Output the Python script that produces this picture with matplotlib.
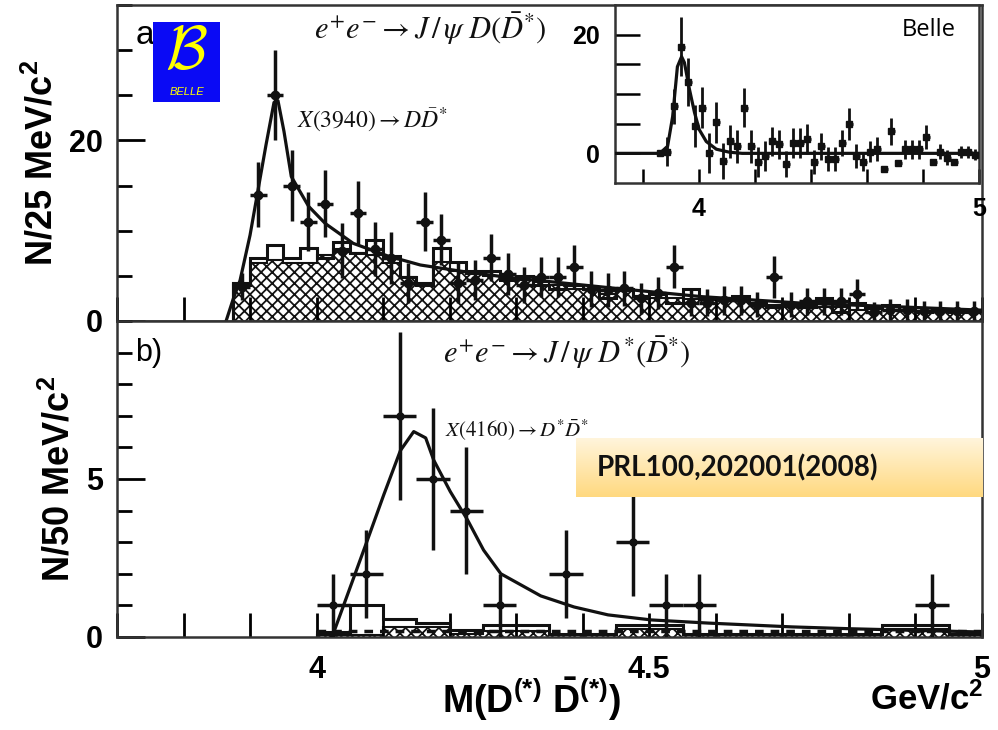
import matplotlib.pyplot as plt
import matplotlib.patches as mpatches
import numpy as np

plt.rcParams['font.family'] = ['Liberation Sans', 'DejaVu Sans']
plt.rcParams['mathtext.fontset'] = 'custom'
plt.rcParams['mathtext.rm'] = 'Liberation Sans:bold'
plt.rcParams['mathtext.it'] = 'Liberation Sans:bold:italic'
plt.rcParams['mathtext.bf'] = 'Liberation Sans:bold'
plt.rcParams['hatch.linewidth'] = 1.3
plt.rcParams['axes.linewidth'] = 1.8

# ---------------- panel a : J/psi D(D*) , 25 MeV bins ----------------
a_edges = np.arange(3.875, 5.0001, 0.025)
a_centers = a_edges[:-1] + 0.0125
a_counts = [3.8, 14, 25, 15, 11, 13, 7.8, 12, 8, 7, 4.2, 11, 9, 4.2, 4.5,
            7, 5.2, 4, 4.9, 4.9, 6, 3.5, 3.4, 3.6, 2.5, 3.1, 6, 2, 2, 2.3,
            2.3, 1.8, 4.9, 1.8, 2.2, 2.2, 2.2, 3, 1, 1.2, 1.2, 1.1, 1.1, 1.1, 1.1]
a_err = [1.5, 3.6, 5.0, 3.9, 3.3, 3.7, 3.0, 3.5, 3.0, 2.9, 2.2, 3.3, 2.8, 2.2,
         2.2, 2.6, 2.3, 2.0, 2.2, 2.2, 2.4, 2.0, 1.9, 1.9, 1.7, 1.8, 2.4, 1.5,
         1.5, 1.6, 1.6, 1.4, 2.3, 1.4, 1.5, 1.5, 1.5, 1.7, 1.1, 1.2, 1.2, 1.1,
         1.1, 1.1, 1.1]
a_bkg_hatched = [4.2, 6.4, 6.8, 6.4, 6.4, 7.3, 8.0, 7.5, 7.3, 6.4, 4.9, 4.2, 6.5,
                 5.5, 5.2, 5.0, 4.8, 4.5, 4.3, 4.0, 3.5, 3.4, 3.0, 3.3, 2.8, 2.6,
                 2.5, 2.4, 2.3, 2.4, 2.2, 2.0, 1.8, 1.6, 1.8, 1.6, 1.5, 1.2, 1.3,
                 1.2, 1.2, 1.1, 1.0, 1.0, 0.9]
a_bkg_open = [4.0, 7.0, 8.4, 7.0, 8.1, 7.0, 8.8, 7.5, 9.0, 7.2, 4.9, 4.0, 8.1,
              6.5, 5.5, 5.5, 4.5, 5.0, 4.0, 3.5, 4.0, 3.5, 2.5, 3.5, 2.8, 3.0,
              2.0, 3.5, 2.5, 2.5, 2.8, 2.0, 1.5, 2.0, 1.5, 2.5, 1.0, 2.0, 1.5,
              1.8, 1.2, 1.0, 1.2, 1.0, 1.0]
a_fit_x = [3.864, 3.875, 3.885, 3.900, 3.912, 3.924, 3.936, 3.942, 3.951, 3.962,
           3.988, 4.013, 4.055, 4.107, 4.156, 4.227, 4.292, 4.438, 4.578, 4.724,
           4.864, 5.0]
a_fit_y = [0, 2.5, 4.5, 9.5, 14.5, 19.5, 24.2, 24.4, 21, 16, 12.7, 10.8, 8.6,
           7.2, 6.2, 5.4, 4.8, 3.7, 2.7, 2.0, 1.6, 1.2]

# ---------------- inset : Belle inclusive ----------------
in_centers = np.arange(3.8625, 5.0, 0.025)
in_counts = [0.1, 0.3, 7.9, 18, 12, 4.6, 7.7, 0.1, 5.2, -1.3, 2.0, 1.2, 7.7, 1.2,
             -1.5, -0.5, 2.0, 1.5, -1.8, 1.8, 1.8, 2.4, -1.5, 1.2, -1.0, -1.0,
             1.8, 4.9, -0.5, -1.5, 0.3, 0.7, -2.7, 3.7, -1.7, 0.7, 0.7, 0.7,
             2.7, -1.5, 0.3, -0.7, -1.5, 0.2, 0.3, -0.2]
in_err = [0, 2.5, 3, 5, 4, 3.5, 3.4, 3.4, 3.5, 3, 2.8, 2.8, 3.3, 2.8, 2.5, 2.5,
          2.5, 2.5, 2.2, 2.5, 2.5, 2.5, 2, 2.3, 2, 2, 2.2, 2.7, 2, 1.5, 1.8, 2,
          0, 2.3, 0, 1.6, 1.6, 1.6, 2.0, 0, 1.2, 1.2, 0, 1, 1, 1]
in_fit_x = [3.70, 3.860, 3.888, 3.906, 3.923, 3.938, 3.948, 3.966, 3.984, 4.001,
            4.026, 4.062, 4.108, 4.154, 5.0]
in_fit_y = [0, 0, 1.2, 6.2, 14.6, 16.3, 15.3, 10.8, 6.9, 4.0, 2.0, 0.7, 0.2, 0, 0]

# ---------------- panel b : J/psi D*(D*) , 50 MeV bins ----------------
b_edges = np.arange(4.0, 5.0001, 0.05)
b_x = [4.025, 4.075, 4.125, 4.175, 4.225, 4.275, 4.375, 4.475, 4.525, 4.575, 4.925]
b_counts = [1, 2, 7, 5, 4, 1, 2, 3, 1, 1, 1]
b_err = [1, 1.4, 2.65, 2.25, 2.0, 1.0, 1.4, 1.7, 1.0, 1.0, 1.0]
b_bkg_open = [0.15, 1.0, 0.57, 0.44, 0.22, 0.38, 0.38, 0.1, 0.1, 0.38, 0.38,
              0.1, 0.1, 0.1, 0.1, 0.1, 0.1, 0.38, 0.38, 0.1]
b_bkg_hatched = [0.05, 0.05, 0.32, 0.32, 0.1, 0.2, 0.2, 0.05, 0.05, 0.25, 0.25,
                 0.05, 0.05, 0.05, 0.05, 0.05, 0.05, 0.25, 0.25, 0.05]
b_fit_x = [4.022, 4.025, 4.051, 4.077, 4.101, 4.126, 4.146, 4.164, 4.176, 4.201,
           4.227, 4.251, 4.277, 4.337, 4.387, 4.438, 4.503, 4.589, 4.714, 4.804,
           4.995]
b_fit_y = [0, 0.1, 1.6, 3.1, 4.5, 5.9, 6.5, 6.3, 5.6, 4.6, 3.7, 2.75, 2.0, 1.3,
           0.95, 0.7, 0.54, 0.44, 0.32, 0.26, 0.16]
b_flat_bkg = 0.2

# ---------------- figure ----------------
fig = plt.figure(figsize=(9.98, 7.3), dpi=100)
axa = fig.add_axes([0.1172, 0.5603, 0.8667, 0.4329])
axb = fig.add_axes([0.1172, 0.1274, 0.8667, 0.4329])

for ax in (axa, axb):
    ax.set_xlim(3.7, 5.0)
    for s in ax.spines.values():
        s.set_color('#333333')
    ax.xaxis.set_major_locator(plt.FixedLocator([4.0, 4.5, 5.0]))
    ax.xaxis.set_minor_locator(plt.MultipleLocator(0.1))
    ax.tick_params(axis='x', which='both', direction='in', length=17, width=2,
                   top=False, pad=13, labelsize=22)
    ax.tick_params(axis='y', which='major', direction='in', length=20, width=2,
                   right=False, pad=10, labelsize=22)
    ax.tick_params(axis='y', which='minor', direction='in', length=11, width=2,
                   right=False)

# panel a
axa.set_ylim(0, 35)
axa.yaxis.set_major_locator(plt.FixedLocator([0, 20]))
axa.yaxis.set_minor_locator(plt.MultipleLocator(5))
axa.tick_params(axis='x', labelbottom=False)
axa.stairs(a_bkg_hatched, a_edges, fill=True, facecolor='white',
           edgecolor='#111111', hatch='xxx', lw=1.5, zorder=1)
axa.stairs(a_bkg_open, a_edges, fill=False, color='#111111', lw=2.2, zorder=2)
axa.plot(a_fit_x, a_fit_y, color='#111111', lw=2.3, zorder=3)
axa.errorbar(a_centers, a_counts, yerr=a_err, xerr=0.0125, fmt='o', ms=6,
             color='#111111', elinewidth=2.5, capsize=0, zorder=4)
axa.set_ylabel('N/25 MeV/c$^2$', fontsize=26, fontweight='bold', labelpad=6)
axa.text(0.021, 0.902, 'a', transform=axa.transAxes, fontsize=24,
         va='center', ha='left')
axa.text(0.362, 0.925, r'$e^{+}e^{-}\rightarrow J\,/\,\psi\ D(\bar{D}^{*})$',
         transform=axa.transAxes, fontsize=22, ha='center', va='center',
         math_fontfamily='stix', color='#111111')
axa.text(0.208, 0.635, r'$X(3940)\rightarrow D\bar{D}^{*}$',
         transform=axa.transAxes, fontsize=17, ha='left', va='center',
         math_fontfamily='stix', color='#111111')

# panel b
axb.set_ylim(0, 10)
axb.yaxis.set_major_locator(plt.FixedLocator([0, 5]))
axb.yaxis.set_minor_locator(plt.MultipleLocator(1))
axb.xaxis.set_major_formatter(plt.FixedFormatter(['4', '4.5', '5']))
axb.stairs(b_bkg_hatched, b_edges, fill=True, facecolor='white',
           edgecolor='#111111', hatch='xxx', lw=1.5, zorder=1)
axb.stairs(b_bkg_open, b_edges, fill=False, color='#111111', lw=2.2, zorder=2)
axb.hlines(b_flat_bkg, 4.0, 5.0, colors='#111111', lw=2.5,
           linestyles=(0, (2.5, 2)), zorder=2)
axb.plot(b_fit_x, b_fit_y, color='#111111', lw=2.3, zorder=3)
axb.errorbar(b_x, b_counts, yerr=b_err, xerr=0.025, fmt='o', ms=5,
             color='#111111', elinewidth=2.5, capsize=0, zorder=4)
axb.set_ylabel('N/50 MeV/c$^2$', fontsize=26, fontweight='bold', labelpad=6)
axb.text(0.021, 0.90, 'b)', transform=axb.transAxes, fontsize=22,
         va='center', ha='left')
axb.text(0.52, 0.90, r'$e^{+}e^{-}\rightarrow J\,/\,\psi\ D^{*}(\bar{D}^{*})$',
         transform=axb.transAxes, fontsize=22, ha='center', va='center',
         math_fontfamily='stix', color='#111111')
axb.text(0.379, 0.655, r'$X(4160)\rightarrow D^{*}\bar{D}^{*}$',
         transform=axb.transAxes, fontsize=15, ha='left', va='center',
         math_fontfamily='stix', color='#111111')

for ax in (axa, axb):
    for lbl in ax.get_xticklabels() + ax.get_yticklabels():
        lbl.set_fontweight('bold')

fig.text(0.533, 0.042, r'M(D$^{(*)}$ $\bar{\mathrm{D}}^{(*)}$)', fontsize=27,
         fontweight='bold', ha='center', va='center')
fig.text(0.985, 0.042, 'GeV/c$^2$', fontsize=25, fontweight='bold',
         ha='right', va='center')

# inset
axi = fig.add_axes([0.6162, 0.7493, 0.3647, 0.2438])
for s in axi.spines.values():
    s.set_color('#333333')
axi.set_xlim(3.7, 5.0)
axi.set_ylim(-5, 25)
axi.xaxis.set_major_locator(plt.FixedLocator([4.0, 5.0]))
axi.xaxis.set_major_formatter(plt.FixedFormatter(['4', '5']))
axi.xaxis.set_minor_locator(plt.FixedLocator([3.8, 4.2, 4.4, 4.6, 4.8]))
axi.yaxis.set_major_locator(plt.FixedLocator([0, 20]))
axi.yaxis.set_minor_locator(plt.FixedLocator([5, 10, 15]))
axi.tick_params(axis='x', which='both', direction='in', length=10, width=1.8,
                pad=10, labelsize=18)
axi.tick_params(axis='y', which='both', direction='in', length=18, width=1.8,
                pad=11, labelsize=18)
for lbl in axi.get_xticklabels() + axi.get_yticklabels():
    lbl.set_fontweight('bold')
axi.plot(in_fit_x, in_fit_y, color='#111111', lw=2.3, zorder=3)
axi.errorbar(in_centers, in_counts, yerr=in_err, xerr=0.0125, fmt='s', ms=4.5,
             color='#111111', elinewidth=2, capsize=0, zorder=4)
axi.text(0.935, 0.86, 'Belle', transform=axi.transAxes, fontsize=17,
         family=['Open Sans', 'DejaVu Sans'], ha='right', va='center')

# Belle logo
axl = fig.add_axes([0.1533, 0.8603, 0.0671, 0.1096])
axl.set_facecolor('#0a0af5')
axl.set_xticks([])
axl.set_yticks([])
for s in axl.spines.values():
    s.set_visible(False)
axl.text(0.5, 0.6, r'$\mathcal{B}$', transform=axl.transAxes, fontsize=44,
         color='#ffff00', ha='center', va='center', math_fontfamily='cm')
axl.text(0.5, 0.13, 'BELLE', transform=axl.transAxes, fontsize=8,
         color='#ffff00', ha='center', va='center', style='italic')

# reference box
axp = fig.add_axes([0.5772, 0.3192, 0.4078, 0.0808])
c_top = np.array([1.0, 0.96, 0.86])
c_bot = np.array([1.0, 0.85, 0.50])
w = np.linspace(0, 1, 64)[:, None]
grad = (c_top[None, :] * (1 - w) + c_bot[None, :] * w)[:, None, :]
axp.imshow(grad, aspect='auto', extent=(0, 1, 0, 1), origin='upper')
axp.set_xlim(0, 1)
axp.set_ylim(0, 1)
axp.axis('off')
axp.text(0.052, 0.5, 'PRL100,202001(2008)', fontsize=20, fontweight='bold',
         family=['Lato', 'DejaVu Sans'], ha='left', va='center', color='#111111')

fig.savefig('out.png', dpi=100)
